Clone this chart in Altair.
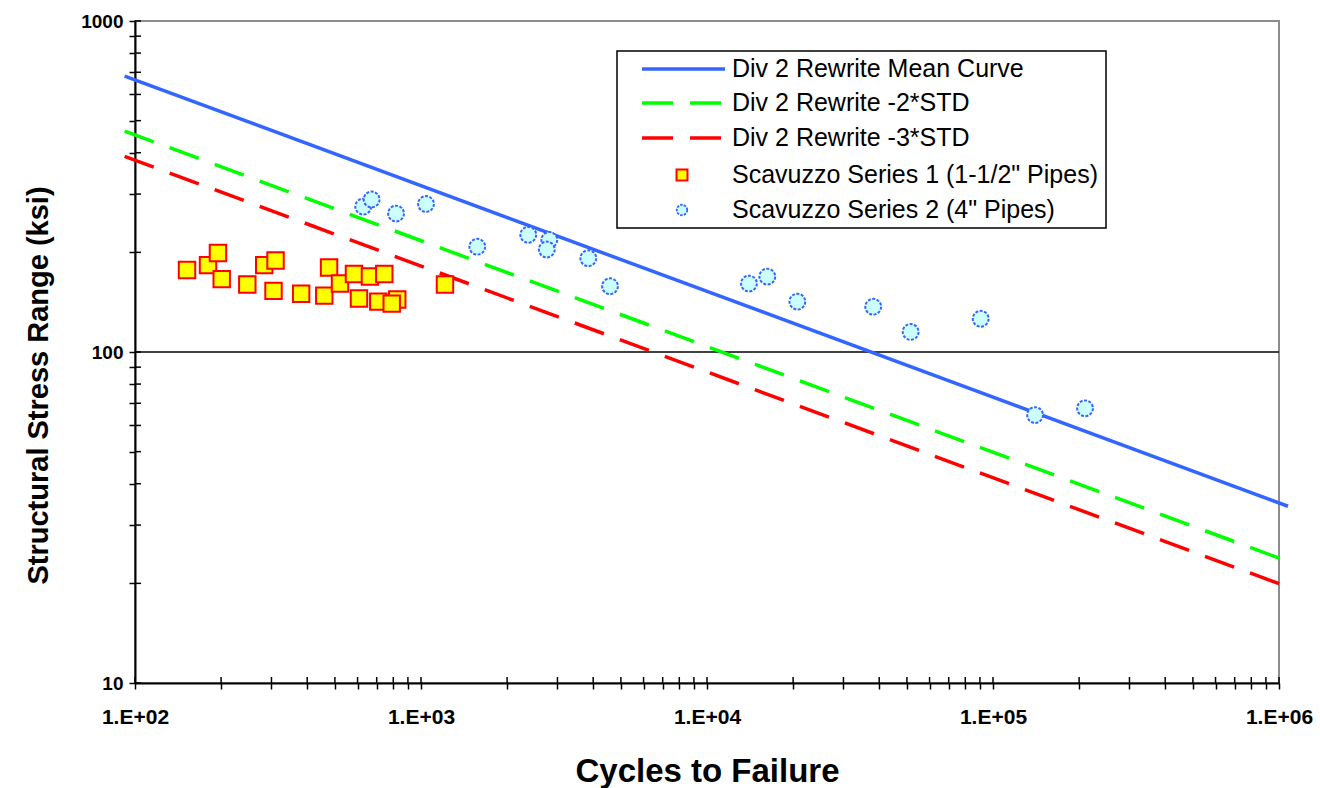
import altair as alt
import pandas as pd

# Scavuzzo Series 1 (1-1/2" pipes): cycles to failure, structural stress range (ksi)
s1_cycles = [152, 180, 195, 201, 247, 283, 310, 305, 381, 459,
             477, 521, 583, 607, 663, 709, 744, 826, 790, 1213]
s1_stress = [177, 183, 199, 166, 160, 183, 189, 153, 150, 148,
             180, 161, 172, 145, 169, 142, 172, 144, 140, 160]

# Scavuzzo Series 2 (4" pipes)
s2_cycles = [628, 672, 818, 1041, 1573, 2372, 2809, 2753, 3846, 4580,
             14020, 16250, 20700, 38120, 51530, 90570, 140300, 209800]
s2_stress = [275, 289, 262, 280, 208, 226, 218, 204, 192, 158,
             161, 169, 142, 137, 115, 126, 64.5, 67.6]

# Div 2 rewrite design curves (straight lines in log-log space, end points)
curve_cycles = [92, 1.075e6]
mean_curve = [682, 34.2]
minus2_curve = [465, 23.3]
minus3_curve = [390, 19.5]

legend_labels = [
    "Div 2 Rewrite Mean Curve",
    "Div 2 Rewrite -2*STD",
    "Div 2 Rewrite -3*STD",
    "Scavuzzo Series 1 (1-1/2\" Pipes)",
    "Scavuzzo Series 2 (4\" Pipes)",
]

x_major = [100, 1000, 10000, 100000, 1000000]
x_major_labels = ["1.E+02", "1.E+03", "1.E+04", "1.E+05", "1.E+06"]
y_major = [10, 100, 1000]
y_major_labels = ["10", "100", "1000"]
x_ticks = [m * 10 ** k for k in range(2, 6) for m in range(1, 10)] + [1000000]
y_ticks = [m * 10 ** k for k in (1, 2) for m in range(1, 10)] + [1000]
grid_lines = [100]

BLUE = "#3366ff"
GREEN = "#00ff00"
RED = "#ff0000"
FONT = "Liberation Sans, Arial, sans-serif"

W, H = 1144, 662


def label_expr(values, labels):
    expr = "''"
    for v, t in zip(values, labels):
        expr = f"datum.value == {v} ? '{t}' : ({expr})"
    return expr


x_scale = alt.Scale(type="log", domain=[100, 1000000], nice=False)
y_scale = alt.Scale(type="log", domain=[10, 1000], nice=False)

x_axis = alt.Axis(
    values=x_ticks, labelExpr=label_expr(x_major, x_major_labels),
    title="Cycles to Failure", grid=False,
    titleX=W / 2, titleY=88, titleBaseline="middle", titleAlign="center",
)
y_axis = alt.Axis(
    values=y_ticks, labelExpr=label_expr(y_major, y_major_labels),
    title="Structural Stress Range (ksi)", grid=False,
    titleX=-97, titleY=364, titleAngle=270, titleBaseline="middle",
    titleAlign="center",
)


def X():
    return alt.X("N:Q", scale=x_scale, axis=x_axis)


def Y():
    return alt.Y("S:Q", scale=y_scale, axis=y_axis)


def curve(values, color, dash=None):
    df = pd.DataFrame({"N": curve_cycles, "S": values})
    kw = dict(color=color, strokeWidth=3.5, strokeCap="butt")
    if dash:
        kw["strokeDash"] = dash
    return alt.Chart(df).mark_line(**kw).encode(x=X(), y=Y())


grid = alt.Chart(pd.DataFrame({"S": grid_lines})).mark_rule(
    color="black", strokeWidth=1.5
).encode(y=Y())

# inward halves of the crossing tick marks
y_inner = alt.Chart(pd.DataFrame({"S": y_ticks})).mark_rule(
    color="black", strokeWidth=1.5
).encode(y=Y(), x=alt.value(0), x2=alt.value(6))
x_inner = alt.Chart(pd.DataFrame({"N": x_ticks})).mark_rule(
    color="black", strokeWidth=1.5
).encode(x=X(), y=alt.value(H), y2=alt.value(H - 6))

mean_line = curve(mean_curve, BLUE)
std2_line = curve(minus2_curve, GREEN, [31, 17])
std3_line = curve(minus3_curve, RED, [31, 17])

series1 = alt.Chart(pd.DataFrame({"N": s1_cycles, "S": s1_stress})).mark_point(
    shape="square", size=270, fill="#ffff00", stroke=RED, strokeWidth=2,
    opacity=1, fillOpacity=1,
).encode(x=X(), y=Y())

series2 = alt.Chart(pd.DataFrame({"N": s2_cycles, "S": s2_stress})).mark_point(
    shape="circle", size=250, fill="#ccffff", stroke=BLUE, strokeWidth=2,
    strokeDash=[3, 1.5], opacity=1, fillOpacity=1,
).encode(x=X(), y=Y())

# legend box
one = pd.DataFrame({"k": [0]})
box = alt.Chart(one).mark_rect(fill="white", stroke="black", strokeWidth=1.5).encode(
    x=alt.value(482), x2=alt.value(971), y=alt.value(30), y2=alt.value(207)
)
row_y = [48, 82, 117, 154, 189]
legend_layers = [box]
for i, (color, dash) in enumerate([(BLUE, None), (GREEN, [31, 17]), (RED, [31, 17])]):
    kw = dict(color=color, strokeWidth=3.5, strokeCap="butt")
    if dash:
        kw["strokeDash"] = dash
    legend_layers.append(
        alt.Chart(one).mark_rule(**kw).encode(
            x=alt.value(507), x2=alt.value(590), y=alt.value(row_y[i])
        )
    )
legend_layers.append(
    alt.Chart(one).mark_point(
        shape="square", size=120, fill="#ffff00", stroke=RED, strokeWidth=2,
        opacity=1, fillOpacity=1,
    ).encode(x=alt.value(547), y=alt.value(row_y[3]))
)
legend_layers.append(
    alt.Chart(one).mark_point(
        shape="circle", size=110, fill="#ccffff", stroke=BLUE, strokeWidth=1.8,
        strokeDash=[2.5, 1.2], opacity=1, fillOpacity=1,
    ).encode(x=alt.value(547), y=alt.value(row_y[4]))
)
for i, label in enumerate(legend_labels):
    legend_layers.append(
        alt.Chart(one).mark_text(
            text=label, align="left", baseline="middle", font=FONT,
            fontSize=25, color="black",
        ).encode(x=alt.value(597), y=alt.value(row_y[i]))
    )

chart = alt.layer(
    grid, mean_line, std2_line, std3_line, series1, series2,
    y_inner, x_inner, *legend_layers,
).properties(
    width=W, height=H,
    autosize=alt.AutoSizeParams(type="none"),
    padding={"left": 135, "top": 21, "right": 41, "bottom": 105},
    background="white",
).configure_view(
    stroke="#8c8c8c", strokeWidth=2
).configure_axis(
    domainColor="black", domainWidth=2, tickColor="black", tickWidth=1.5,
    tickSize=6, labelColor="black", titleColor="black", titleFont=FONT,
    titleFontWeight="bold", labelFontWeight="bold", labelOverlap=False,
    labelFlush=False, labelBound=False, labelFont=FONT,
).configure_axisX(
    labelFontSize=21, labelPadding=17, titleFontSize=33,
).configure_axisY(
    labelFontSize=19, labelPadding=6, titleFontSize=29,
)

chart.save("out.html", embed_options={"renderer": "svg", "actions": False})
